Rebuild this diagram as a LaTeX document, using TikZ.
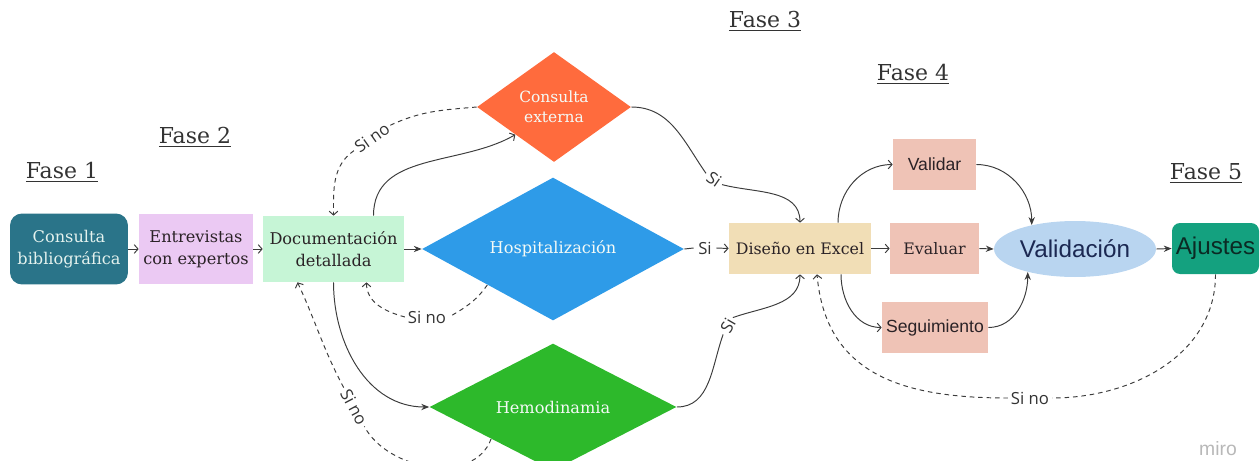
\documentclass[tikz,border=0pt]{standalone}
\usepackage{fontspec}
\setmainfont{DejaVu Serif}
\setsansfont{Liberation Sans}
\newfontfamily\lblfont{Open Sans}
\usetikzlibrary{shapes.geometric,arrows.meta,calc}
\pgfdeclarelayer{bg}
\pgfsetlayers{bg,main}
\definecolor{cbfill}{HTML}{2A7489}
\definecolor{cbtext}{HTML}{E4F2EE}
\definecolor{entfill}{HTML}{EBC9F3}
\definecolor{docfill}{HTML}{C6F5D6}
\definecolor{cefill}{HTML}{FF6B3D}
\definecolor{hospfill}{HTML}{2E9BE8}
\definecolor{hemofill}{HTML}{2DB92B}
\definecolor{disfill}{HTML}{F1DEB6}
\definecolor{pkfill}{HTML}{EFC3B6}
\definecolor{vldfill}{HTML}{B9D5F0}
\definecolor{vldtext}{HTML}{1B2852}
\definecolor{ajufill}{HTML}{14A17F}
\definecolor{ajutext}{HTML}{0B2A24}
\definecolor{linec}{HTML}{3C3C3C}
\definecolor{lblc}{HTML}{333333}
\definecolor{darktext}{HTML}{2A2226}
\definecolor{fasec}{HTML}{333333}
\definecolor{lighttext}{HTML}{F4FAF6}
\begin{document}
\begin{tikzpicture}[x=0.02cm,y=0.02cm,
  box/.style={draw=none,inner sep=1pt,align=center,text=darktext,font=\fontsize{9.2}{12.3}\selectfont},
  sbox/.style={draw=none,inner sep=1pt,align=center,text=darktext,font=\sffamily\fontsize{10}{12}\selectfont},
  dia/.style={shape=diamond,inner sep=0pt,align=center,text=lighttext,font=\fontsize{9.2}{12}\selectfont},
  lbl/.style={font=\lblfont\fontsize{9.5}{11}\selectfont,text=lblc,inner sep=1.5pt,fill=white},
  fase/.style={font=\fontsize{12.5}{15}\selectfont,text=fasec},
  con/.style={draw=linec,line width=0.55pt},
  oa/.style={con,-{Straight Barb[length=2.2pt,width=5pt]}},
  fa/.style={con,-{Stealth[length=4.5pt,width=3.6pt]}},
  da/.style={oa,dash pattern=on 2.6pt off 2.2pt},
]
\useasboundingbox (0,0) rectangle (1260,-460);
\clip (0,0) rectangle (1260,-460);

% phase titles
\node[fase] (f1) at (62,-172) {\underline{Fase 1}};
\node[fase] (f2) at (195,-137) {\underline{Fase 2}};
\node[fase] (f3) at (765,-21) {\underline{Fase 3}};
\node[fase] (f4) at (913,-74) {\underline{Fase 4}};
\node[fase] (f5) at (1206,-173) {\underline{Fase 5}};

% nodes
\node[box,fill=cbfill,text=cbtext,rounded corners=0.24cm,minimum width=2.36cm,minimum height=1.42cm] (cb) at (69,-249) {Consulta\\bibliográfica};
\node[box,fill=entfill,minimum width=2.28cm,minimum height=1.42cm] (ent) at (196,-249) {Entrevistas\\con expertos};
\node[box,fill=docfill,minimum width=2.82cm,minimum height=1.32cm] (doc) at (333.5,-249) {Documentación\\detallada};
\node[dia,fill=cefill,minimum width=3.08cm,minimum height=2.2cm,font=\fontsize{8.8}{11.5}\selectfont] (ce) at (554,-107) {Consulta\\externa};
\node[dia,fill=hospfill,minimum width=5.24cm,minimum height=2.08cm] (hosp) at (553,-249) {Hospitalización};
\node[dia,fill=hemofill,minimum width=4.94cm,minimum height=2.16cm] (hemo) at (553,-407) {Hemodinamia};
\node[box,fill=disfill,minimum width=2.84cm,minimum height=1.02cm,font=\fontsize{9}{12}\selectfont] (dis) at (800,-248.5) {Diseño en Excel};
\node[sbox,fill=pkfill,minimum width=1.66cm,minimum height=1.02cm] (val) at (934.5,-164.5) {Validar};
\node[box,fill=pkfill,minimum width=1.78cm,minimum height=1.02cm,font=\fontsize{9}{12}\selectfont] (eva) at (934.5,-248.5) {Evaluar};
\node[sbox,fill=pkfill,minimum width=2.12cm,minimum height=1.02cm] (seg) at (935,-327.5) {Seguimiento};
\node[shape=ellipse,fill=vldfill,inner sep=0pt,minimum width=3.24cm,minimum height=1.12cm,text=vldtext,font=\sffamily\fontsize{13.8}{15}\selectfont] (vld) at (1075,-249) {Validación};
\node[fill=ajufill,rounded corners=0.16cm,inner sep=0pt,minimum width=1.74cm,minimum height=1.02cm,text=ajutext,font=\sffamily\fontsize{13.8}{15}\selectfont] (aju) at (1215.5,-248.5) {Ajustes};

% edge labels
\node[lbl,rotate=35] (sn1) at (372,-138) {Si no};
\node[lbl] (sn2) at (427,-317) {Si no};
\node[lbl,rotate=-62] (sn3) at (354,-407) {Si no};
\node[lbl] (sn4) at (1030,-398) {Si no};
\node[lbl,rotate=-35] (s1) at (714,-179) {Si};
\node[lbl,inner sep=2.5pt] (s2) at (705,-248) {Si};
\node[lbl,rotate=60] (s3) at (728,-326) {Si};

% connectors
\begin{pgfonlayer}{bg}
\draw[oa] (cb.east) -- (ent.west);
\draw[oa] (ent.east) -- (doc.west);
\draw[fa] (doc.east) -- (hosp.west);
\draw[oa] ($(doc.north)+(40,0)$) to[out=90,in=210] (ce.south west);
\draw[da] (ce.west) to[out=185,in=25] (sn1.east) (sn1.west) to[out=215,in=90] (doc.north);
\draw[da] (hosp.south west) to[out=235,in=30] (sn2.east) (sn2.west) to[out=165,in=-90] ($(doc.south)+(33,0)$);
\draw[fa] (doc.south) to[out=-90,in=180] (hemo.west);
\draw[da] (hemo.south west) to[out=250,in=-62] (sn3.east) (sn3.west) to[out=118,in=-65] ($(doc.south)+(-36,0)$);

\draw[oa] (ce.east) to[out=0,in=125] (s1.west) (s1.east) to[out=-15,in=90] (dis.north);
\draw[oa] (hosp.east) -- (s2.west) (s2.east) -- (dis.west);
\draw[oa] (hemo.east) to[out=0,in=250] (s3.west) (s3.east) to[out=20,in=-90] (dis.south);

\draw[oa] ($(dis.north)+(38,0)$) to[out=90,in=180] (val.west);
\draw[oa] (dis.east) -- (eva.west);
\draw[oa] ($(dis.south)+(41,0)$) to[out=-90,in=180] (seg.west);
\draw[fa] (val.east) to[out=0,in=90] (vld.151);
\draw[fa] (eva.east) -- (vld.west);
\draw[fa] (seg.east) to[out=0,in=-90] (vld.206);
\draw[fa] (vld.east) -- (aju.west);
\draw[da] (aju.south) to[out=-90,in=0] (sn4.east) (sn4.west) to[out=180,in=-85,looseness=1.15] ($(dis.south)+(17,0)$);
\end{pgfonlayer}

\node[font=\sffamily\fontsize{11}{12}\selectfont,text=black!28] (miro) at (1218,-449) {miro};
\end{tikzpicture}
\end{document}
